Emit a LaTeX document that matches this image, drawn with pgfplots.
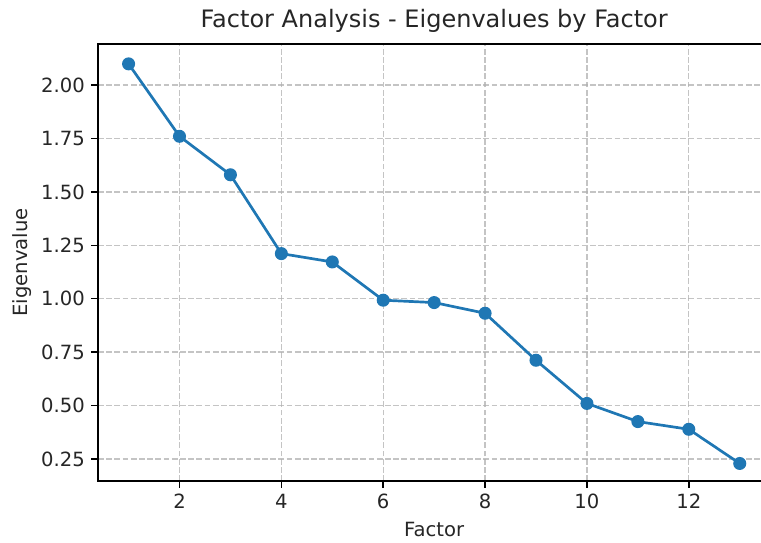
\documentclass[border=0pt]{standalone}
\usepackage{fontspec}
\setmainfont{DejaVu Sans}
\usepackage{pgfplots}
\pgfplotsset{compat=1.18}
\definecolor{mplblue}{HTML}{1F77B4}
\definecolor{gridc}{HTML}{B0B0B0}
\begin{document}
\begin{tikzpicture}
\useasboundingbox (0,0) rectangle (761pt,543pt);
\clip (0,0) rectangle (761pt,543pt);
\begin{axis}[
  at={(98pt,62pt)}, anchor=south west,
  scale only axis, width=672.3pt, height=437pt,
  xmin=0.4, xmax=13.6, ymin=0.147, ymax=2.192,
  xtick={2,4,6,8,10,12},
  ytick={0.25,0.5,0.75,1,1.25,1.5,1.75,2},
  yticklabel style={xshift=-3pt, /pgf/number format/.cd, fixed, fixed zerofill, precision=2},
  /pgf/number format/assume math mode=true,
  tick label style={font=\fontsize{19.6}{23}\selectfont, text=black!85},
  xticklabel style={yshift=-3pt},
  label style={font=\fontsize{19.6}{23}\selectfont, text=black!85},
  title style={font=\fontsize{24}{28}\selectfont, text=black!85, at={(0.5,1)}, anchor=base, yshift=10pt},
  title={Factor Analysis - Eigenvalues by Factor},
  xlabel={Factor}, ylabel={Eigenvalue},
  tick align=outside, major tick length=6.7pt,
  xtick pos=bottom, ytick pos=left,
  every tick/.style={black, line width=1.5pt},
  axis line style={black, line width=1.5pt},
  grid=major,
  major grid style={gridc, opacity=0.75, line width=1.3pt, dash pattern=on 5.7pt off 2.5pt},
  xlabel style={at={(axis description cs:0.5,0)}, anchor=base, yshift=-56pt},
  ylabel style={at={(axis description cs:-0.1056,0.5)}, anchor=base},
]
\addplot[color=mplblue, line width=2.7pt, mark=*, mark size=5.76pt,
  mark options={fill=mplblue, draw=mplblue, line width=1.5pt}]
  coordinates {
  (1,2.099) (2,1.760) (3,1.580) (4,1.211) (5,1.172) (6,0.993)
  (7,0.982) (8,0.932) (9,0.712) (10,0.510) (11,0.425) (12,0.389) (13,0.229)
  };
\end{axis}
\end{tikzpicture}
\end{document}
